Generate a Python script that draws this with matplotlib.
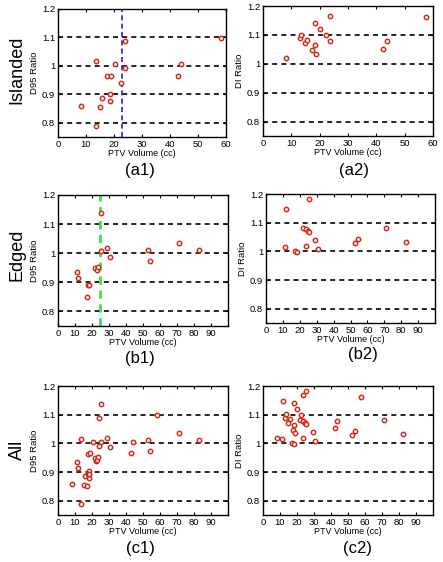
import matplotlib.pyplot as plt

plt.rcParams['font.family'] = ['Liberation Sans', 'DejaVu Sans']

# Islanded
x_isl_d95 = [8.2, 13.7, 13.7, 15.1, 15.8, 17.5, 18.4, 18.5, 19.0, 20.4, 22.4, 23.9, 23.9, 43.0, 44.0, 58.1]
y_isl_d95 = [0.859, 1.016, 0.788, 0.854, 0.886, 0.963, 0.878, 0.902, 0.966, 1.006, 0.939, 1.087, 0.992, 0.966, 1.006, 1.099]
x_isl_d1 = [8.2, 13.2, 13.3, 14.8, 15.6, 17.4, 18.2, 18.3, 18.7, 20.1, 22.1, 23.5, 23.5, 42.5, 43.6, 57.5]
y_isl_d1 = [1.019, 1.090, 1.101, 1.072, 1.084, 1.047, 1.140, 1.065, 1.035, 1.119, 1.100, 1.167, 1.079, 1.052, 1.079, 1.163]
isl_cut = 22.9

# Edged
x_edg_d95 = [11.2, 11.8, 16.9, 17.8, 18.4, 21.8, 23.1, 23.3, 25.1, 25.1, 29.0, 30.8, 52.7, 54.3, 71.4, 82.9]
y_edg_d95 = [0.935, 0.914, 0.851, 0.892, 0.892, 0.950, 0.941, 0.952, 1.137, 1.006, 1.017, 0.987, 1.012, 0.972, 1.036, 1.012]
x_edg_d1 = [11.3, 11.7, 17.0, 18.5, 22.0, 23.4, 23.6, 24.8, 25.3, 25.5, 29.2, 30.6, 52.6, 54.2, 71.1, 82.6]
y_edg_d1 = [1.015, 1.147, 1.001, 0.997, 1.083, 1.017, 1.077, 1.072, 1.066, 1.184, 1.039, 1.008, 1.029, 1.043, 1.082, 1.033]
edg_cut = 24.9

row_names = ['Islanded', 'Edged', 'All']
panel_tags = [['(a1)', '(a2)'], ['(b1)', '(b2)'], ['(c1)', '(c2)']]

W, H = 443, 562
fig = plt.figure(figsize=(W / 100, H / 100), dpi=100)

def box(l, t, r, b):
    return [l / W, 1 - b / H, (r - l) / W, (b - t) / H]

boxes = [
    [box(58, 9, 226, 137), box(263, 6, 433, 136)],
    [box(58, 195, 228, 326), box(266, 194, 435, 323)],
    [box(58, 386, 228, 515), box(263, 386, 433, 515)],
]
# pixel centres of the (a1)... tags
tag_pos = [[(140, 170), (354, 170)], [(140, 359), (363, 355)], [(140, 548), (358, 549)]]
row_y = [70, 255, 450]

data = [
    [(x_isl_d95, y_isl_d95), (x_isl_d1, y_isl_d1)],
    [(x_edg_d95, y_edg_d95), (x_edg_d1, y_edg_d1)],
    [(x_isl_d95 + x_edg_d95, y_isl_d95 + y_edg_d95), (x_isl_d1 + x_edg_d1, y_isl_d1 + y_edg_d1)],
]

for r in range(3):
    for c in range(2):
        ax = fig.add_axes(boxes[r][c])
        xs, ys = data[r][c]
        for yv in [0.8, 0.9, 1.0, 1.1]:
            ax.axhline(yv, color='black', linestyle=(0, (3, 2.5)), linewidth=1.2, zorder=1)
        if r == 0 and c == 0:
            ax.axvline(isl_cut, color='#2020d0', linestyle=(0, (3, 2)), linewidth=1.2, zorder=1)
        if r == 1 and c == 0:
            ax.axvline(edg_cut, color='#40e040', linestyle=(0, (3, 2)), linewidth=2, zorder=1)
        ax.plot(xs, ys, linestyle='none', marker='o', markersize=3.2,
                mfc='#f4e8e0', mec='#d02818', mew=1, zorder=3)
        ax.set_ylim(0.75, 1.2)
        ax.set_yticks([0.8, 0.9, 1.0, 1.1, 1.2])
        ax.set_yticklabels(['0.8', '0.9', '1', '1.1', '1.2'])
        if r == 0:
            ax.set_xlim(0, 60)
            ax.set_xticks([0, 10, 20, 30, 40, 50, 60])
        else:
            ax.set_xlim(0, 100)
            ax.set_xticks([0, 10, 20, 30, 40, 50, 60, 70, 80, 90])
        ax.tick_params(direction='in', top=True, right=True, labelsize=6.8, length=2.5, pad=2)
        ax.set_xlabel('PTV Volume (cc)', fontsize=6.5, labelpad=0)
        ax.set_ylabel('D95 Ratio' if c == 0 else 'DI Ratio', fontsize=6.8, labelpad=2)
        for s in ax.spines.values():
            s.set_linewidth(1)
        tx, ty = tag_pos[r][c]
        fig.text(tx / W, 1 - ty / H, panel_tags[r][c], ha='center', va='center', fontsize=12)
    fig.text(17 / W, 1 - row_y[r] / H, row_names[r], rotation=90, ha='center', va='center', fontsize=13)

fig.savefig('out.png', dpi=100, facecolor='white')
